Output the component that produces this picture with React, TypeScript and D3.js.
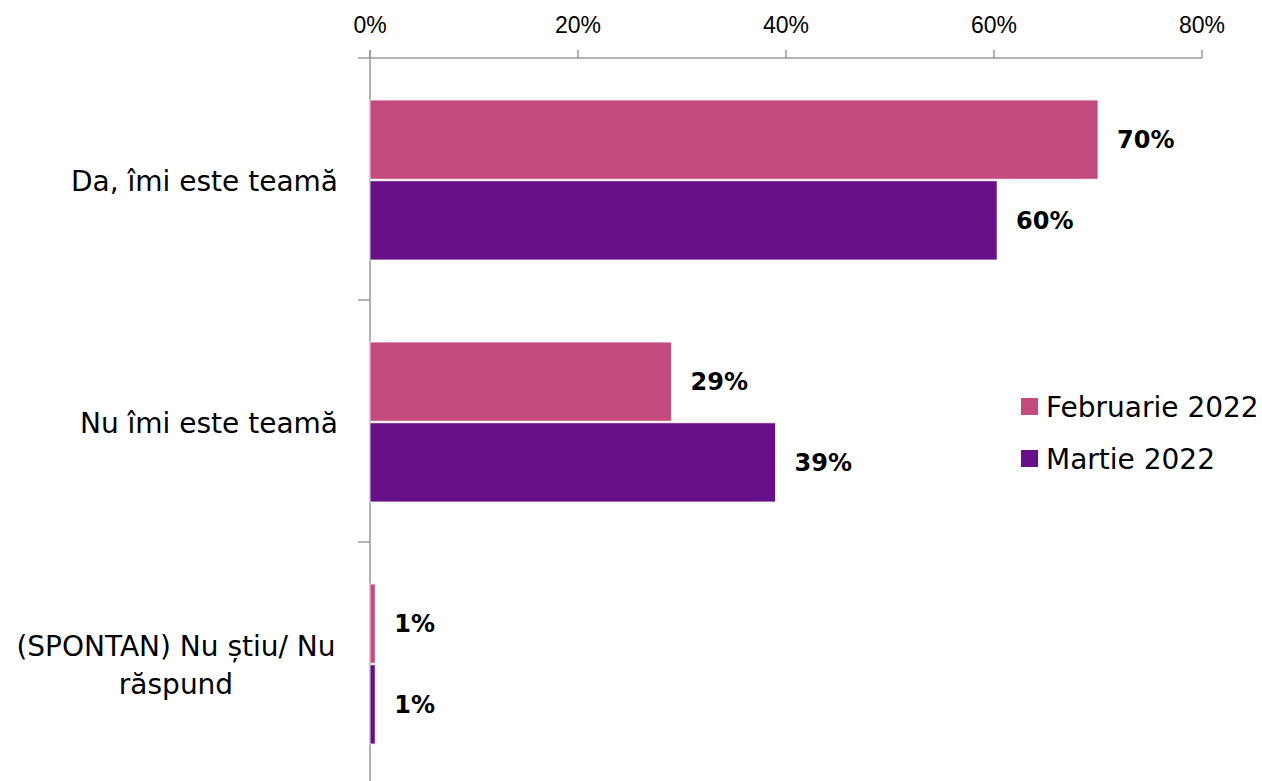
import React from "react";
import * as d3 from "d3";

const categories = ["Da, îmi este teamă", "Nu îmi este teamă", "(SPONTAN) Nu știu/ Nu răspund"];
const categoryLines = [["Da, îmi este teamă"], ["Nu îmi este teamă"], ["(SPONTAN) Nu știu/ Nu", "răspund"]];
const seriesNames = ["Februarie 2022", "Martie 2022"];
const febValues = [70, 29, 0.5];
const marValues = [60.3, 39, 0.5];
const barLabels = [["70%", "29%", "1%"], ["60%", "39%", "1%"]];
const ticks = [0, 20, 40, 60, 80];
const colors = ["#C44B7E", "#660F87"];

const W = 1262, H = 781;
const x0 = 370, x1 = 1202;
const top = 58, bandH = 242;

export default function App() {
  const x = d3.scaleLinear().domain([0, 80]).range([x0, x1]);
  const y = d3.scaleBand<number>().domain([0, 1, 2]).range([top, top + bandH * 3]).paddingInner(0).paddingOuter(0);
  const inner = d3.scaleBand<number>().domain([0, 1]).range([42, 202]).paddingInner(0.02);
  const series = [febValues, marValues];
  const labelFont = "'DejaVu Sans', sans-serif";
  return (
    <svg width={W} height={H} style={{ position: "absolute", left: 0, top: 0, background: "#fff" }}>
      {/* top axis */}
      <line x1={358} x2={x1} y1={top} y2={top} stroke="#999" strokeWidth={1.5} />
      {ticks.map((t) => (
        <g key={t}>
          <line x1={x(t)} x2={x(t)} y1={top - 8} y2={top} stroke="#999" strokeWidth={1.5} />
          <text x={x(t)} y={33} textAnchor="middle" fontFamily="'Liberation Sans', Arial, sans-serif" fontSize={23} fill="#000">
            {t}%
          </text>
        </g>
      ))}
      {/* left axis */}
      <line x1={x0} x2={x0} y1={top - 8} y2={H} stroke="#999" strokeWidth={1.5} />
      {[1, 2].map((i) => (
        <line key={i} x1={358} x2={x0} y1={y(i)!} y2={y(i)!} stroke="#999" strokeWidth={1.5} />
      ))}
      {/* bars */}
      {series.map((vals, s) =>
        vals.map((v, i) => {
          const by = y(i)! + inner(s)!;
          const bh = inner.bandwidth();
          return (
            <g key={`${s}-${i}`}>
              <rect x={x0} y={by} width={x(v) - x0} height={bh} fill={colors[s]} stroke="#fff" strokeWidth={0.8} />
              <text x={x(v) + 19} y={by + bh / 2} dy="0.36em" fontFamily={labelFont} fontWeight="bold" fontSize={24} fill="#000">
                {barLabels[s][i]}
              </text>
            </g>
          );
        })
      )}
      {/* category labels */}
      {categories.map((c, i) => {
        const lines = categoryLines[i];
        const cy = y(i)! + bandH / 2 + 2;
        const lh = 38;
        return (
          <text key={c} fontFamily={labelFont} fontSize={28} fill="#000" textAnchor={lines.length > 1 ? "middle" : "end"}>
            {lines.map((l, k) => (
              <tspan key={k} x={lines.length > 1 ? 176 : 338} y={cy + (k - (lines.length - 1) / 2) * lh} dy="0.36em">
                {l}
              </tspan>
            ))}
          </text>
        );
      })}
      {/* legend */}
      {seriesNames.map((n, s) => (
        <g key={n} transform={`translate(1021, ${398 + s * 52})`}>
          <rect width={17} height={17} fill={colors[s]} />
          <text x={25} y={8.5} dy="0.36em" fontFamily={labelFont} fontSize={28} fill="#000">
            {n}
          </text>
        </g>
      ))}
    </svg>
  );
}
